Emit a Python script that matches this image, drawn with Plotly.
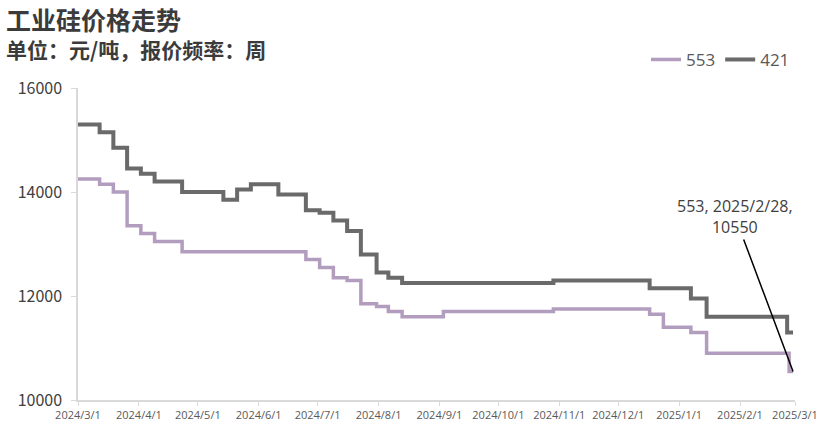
import plotly.graph_objects as go

# ---- data (change points of weekly quotes, step line) ----
dates_553 = ["2024-03-01", "2024-03-12", "2024-03-19", "2024-03-26", "2024-04-02",
             "2024-04-09", "2024-04-23", "2024-06-25", "2024-07-02", "2024-07-09",
             "2024-07-16", "2024-07-23", "2024-07-31", "2024-08-06", "2024-08-13",
             "2024-09-03", "2024-10-29", "2024-12-17", "2024-12-24", "2025-01-07",
             "2025-01-15", "2025-02-26", "2025-02-28"]
vals_553 = [14250, 14150, 14000, 13350, 13200,
            13050, 12850, 12700, 12550, 12350,
            12300, 11850, 11800, 11700, 11600,
            11700, 11750, 11650, 11400, 11300,
            10900, 10550, 10550]

dates_421 = ["2024-03-01", "2024-03-12", "2024-03-19", "2024-03-26", "2024-04-02",
             "2024-04-09", "2024-04-23", "2024-05-14", "2024-05-21", "2024-05-28",
             "2024-06-11", "2024-06-25", "2024-07-02", "2024-07-09", "2024-07-16",
             "2024-07-23", "2024-07-31", "2024-08-06", "2024-08-13", "2024-10-29",
             "2024-12-17", "2025-01-07", "2025-01-15", "2025-02-25", "2025-02-28"]
vals_421 = [15300, 15150, 14850, 14450, 14350,
            14200, 14000, 13850, 14050, 14150,
            13950, 13650, 13600, 13450, 13250,
            12800, 12450, 12350, 12250, 12300,
            12150, 11950, 11600, 11300, 11300]

tick_dates = ["2024-03-01", "2024-04-01", "2024-05-01", "2024-06-01", "2024-07-01",
              "2024-08-01", "2024-09-01", "2024-10-01", "2024-11-01", "2024-12-01",
              "2025-01-01", "2025-02-01", "2025-03-01"]
tick_text = ["2024/3/1", "2024/4/1", "2024/5/1", "2024/6/1", "2024/7/1", "2024/8/1",
             "2024/9/1", "2024/10/1", "2024/11/1", "2024/12/1", "2025/1/1", "2025/2/1",
             "2025/3/1"]
y_ticks = [10000, 12000, 14000, 16000]
y_tick_text = ["10000", "12000", "14000", "16000"]

title_text = "工业硅价格走势"
subtitle_text = "单位：元/吨，报价频率：周"
label_text = "553, 2025/2/28,<br>10550"

FONT = "Noto Sans CJK SC, Noto Sans, sans-serif"

fig = go.Figure()
fig.add_trace(go.Scatter(x=dates_553, y=vals_553, name="553", mode="lines",
                         line=dict(color="#b39dbf", width=3.5, shape="hv")))
fig.add_trace(go.Scatter(x=dates_421, y=vals_421, name="421", mode="lines",
                         line=dict(color="#6a6a6a", width=4, shape="hv")))

fig.update_layout(
    width=830, height=436,
    margin=dict(l=78, r=35, t=88, b=36),
    paper_bgcolor="white", plot_bgcolor="white",
    font=dict(family=FONT, color="#404040"),
    showlegend=True,
    legend=dict(orientation="h", x=1.0, xanchor="right", y=1.09, yanchor="middle",
                font=dict(size=17, color="#595959", family="Open Sans, sans-serif"),
                itemwidth=30, tracegroupgap=0, bgcolor="rgba(0,0,0,0)"),
    xaxis=dict(type="date", range=["2024-03-01", "2025-03-01"],
               tickvals=tick_dates, ticktext=tick_text, tickangle=0,
               showgrid=False, zeroline=False, automargin=False,
               showline=True, linecolor="#d9d9d9", linewidth=1.5,
               ticks="outside", ticklen=4, tickcolor="#d9d9d9",
               tickfont=dict(size=11, color="#595959",
                             family="Liberation Sans Narrow, Open Sans, sans-serif")),
    yaxis=dict(range=[10000, 16000], tickvals=y_ticks, ticktext=y_tick_text,
               showgrid=False, zeroline=False, automargin=False,
               showline=True, linecolor="#d9d9d9", linewidth=1.5,
               ticks="outside", ticklen=5, tickcolor="#d9d9d9",
               ticklabelstandoff=6,
               tickfont=dict(size=16, color="#404040", family=FONT)),
    annotations=[
        dict(text="<b>" + title_text + "</b>", xref="paper", yref="paper",
             x=-74/717, y=1 + (88-19)/312, xanchor="left", yanchor="middle",
             showarrow=False, font=dict(size=25, color="#3b3b3b", family=FONT)),
        dict(text="<b>" + subtitle_text + "</b>", xref="paper", yref="paper",
             x=-74/717, y=1 + (88-49)/312, xanchor="left", yanchor="middle",
             showarrow=False, font=dict(size=21, color="#3b3b3b", family=FONT)),
        dict(text=label_text, x=dates_553[-1], y=vals_553[-1], xref="x", yref="y",
             showarrow=True, arrowhead=0, arrowwidth=1.5, arrowcolor="#000000",
             ax=-58, ay=-155, align="center",
             font=dict(size=16, color="#404040", family="Open Sans, sans-serif")),
    ],
)

fig.write_html("out.html", config={"displayModeBar": False},
               post_script="document.body.style.margin='0';document.body.style.padding='0';")
